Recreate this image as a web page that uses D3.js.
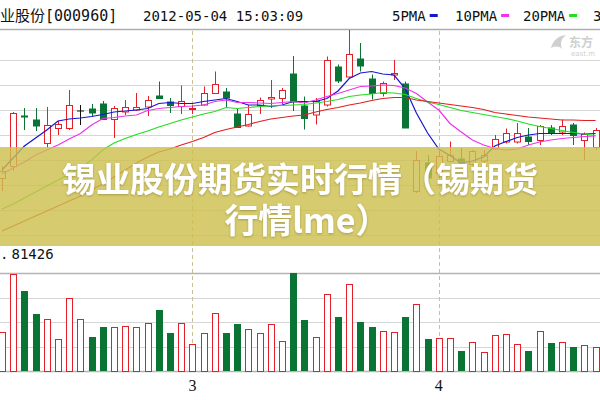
<!DOCTYPE html>
<html>
<head>
<meta charset="utf-8">
<script src="https://cdn.jsdelivr.net/npm/d3@7"></script>
<style>
  body { margin: 0; background: #fff; }
  svg { display: block; }
</style>
</head>
<body>
<div id="chart"></div>
<script>
// daily candles (price units)
var opens  = [19.14, 19.38, 20.40, 20.32, 19.84, 20.14, 20.14, 20.50, 20.54, 20.64,
              20.32, 20.48, 20.51, 20.56, 20.80, 20.67, 20.58, 20.51, 20.61, 20.84,
              20.88, 20.44, 20.19, 20.60, 20.74, 20.74, 21.24, 20.61, 20.40, 20.61,
              21.37, 21.17, 21.53, 21.15, 20.84, 21.20, 21.04, 18.88, 19.46, 19.24,
              19.48, 19.54, 19.41, 19.49, 19.74, 19.87, 19.87, 19.98, 19.90, 20.16,
              20.07, 20.21, 19.90, 19.76];
var closes = [19.28, 20.44, 20.36, 20.18, 20.20, 20.22, 20.60, 20.50, 20.44, 20.31,
              20.54, 20.57, 20.56, 20.69, 20.73, 20.58, 20.68, 20.53, 20.84, 21.02,
              20.74, 20.15, 20.42, 20.70, 20.77, 20.90, 20.66, 20.34, 20.67, 21.50,
              21.07, 21.62, 21.37, 20.84, 21.04, 21.23, 20.14, 19.50, 19.14, 19.57,
              19.60, 19.44, 19.67, 19.60, 19.93, 20.04, 20.04, 19.87, 20.18, 20.04,
              20.18, 19.98, 20.02, 20.10];
var highs  = [19.38, 20.46, 20.54, 20.54, 20.56, 20.28, 20.90, 20.60, 20.62, 20.68,
              20.58, 20.70, 20.84, 20.78, 21.07, 20.74, 20.99, 20.60, 20.97, 21.27,
              20.94, 20.54, 20.60, 20.75, 21.10, 20.94, 21.58, 20.77, 20.74, 21.57,
              21.41, 22.10, 21.84, 21.21, 21.07, 21.50, 21.07, 19.68, 19.60, 19.68,
              19.87, 19.74, 19.70, 19.70, 20.00, 20.13, 20.24, 20.14, 20.20, 20.20,
              20.31, 20.24, 20.05, 20.14];
var lows   = [18.88, 19.28, 20.10, 20.08, 19.74, 20.00, 20.10, 20.20, 20.38, 20.30,
              19.94, 20.40, 20.48, 20.38, 20.72, 20.44, 20.42, 20.42, 20.59, 20.82,
              20.55, 20.14, 20.17, 20.42, 20.54, 20.62, 20.48, 20.11, 20.21, 20.57,
              21.04, 21.14, 21.27, 20.71, 20.77, 21.10, 20.14, 18.84, 18.90, 19.14,
              19.47, 19.40, 19.39, 19.41, 19.70, 19.83, 19.83, 19.80, 19.80, 20.00,
              20.00, 19.80, 19.50, 19.70];
var volumes = [32250, 80840, 66670, 47500, 43340, 26670, 60590, 43340, 28090, 36420,
               36420, 37500, 36420, 40250, 50840, 31420, 39750, 22500, 31420, 48590,
               31420, 38920, 35000, 31420, 38920, 25250, 81426, 42500, 28590, 63920,
               44750, 72250, 41090, 36420, 33590, 32250, 44750, 55590, 26670, 27750,
               27750, 16920, 23920, 15580, 30000, 30840, 22500, 16920, 33590, 23080,
               23920, 19750, 21670, 20250];

// moving average lines as drawn
var ma5  = [19.30, 19.54, 19.78, 19.94, 20.10, 20.28, 20.32, 20.34, 20.37, 20.41,
            20.46, 20.48, 20.50, 20.53, 20.63, 20.65, 20.63, 20.63, 20.67, 20.70,
            20.73, 20.67, 20.60, 20.60, 20.57, 20.60, 20.67, 20.67, 20.67, 20.73,
            20.88, 21.13, 21.24, 21.27, 21.22, 21.20, 20.93, 20.44, 20.04, 19.72,
            19.59, 19.44, 19.48, 19.56, 19.78, 19.87, 19.95, 20.00, 20.03, 20.03,
            20.03, 20.03, 20.02, 20.03];
var ma10 = [19.22, 19.34, 19.46, 19.60, 19.70, 19.80, 19.92, 20.03, 20.20, 20.33,
            20.35, 20.38, 20.40, 20.49, 20.53, 20.55, 20.57, 20.58, 20.60, 20.67,
            20.70, 20.65, 20.65, 20.64, 20.63, 20.65, 20.67, 20.64, 20.70, 20.77,
            20.83, 20.90, 20.97, 20.98, 21.00, 20.99, 20.94, 20.83, 20.66, 20.50,
            20.23, 20.06, 19.90, 19.80, 19.73, 19.70, 19.72, 19.80, 19.86, 19.90,
            19.93, 19.95, 19.97, 19.98];
var ma20 = [18.52, 18.62, 18.74, 18.86, 18.98, 19.10, 19.22, 19.34, 19.50, 19.70,
            19.84, 19.93, 20.01, 20.08, 20.16, 20.23, 20.30, 20.36, 20.42, 20.47,
            20.55, 20.53, 20.55, 20.57, 20.58, 20.59, 20.60, 20.61, 20.64, 20.67,
            20.71, 20.77, 20.80, 20.82, 20.85, 20.84, 20.81, 20.73, 20.66, 20.61,
            20.55, 20.49, 20.45, 20.41, 20.37, 20.33, 20.28, 20.22, 20.17, 20.13,
            20.09, 20.05, 20.02, 19.99];
var ma30 = [18.08, 18.18, 18.28, 18.38, 18.48, 18.58, 18.68, 18.78, 18.90, 19.02,
            19.16, 19.30, 19.44, 19.56, 19.66, 19.72, 19.80, 19.87, 19.95, 20.05,
            20.11, 20.16, 20.21, 20.27, 20.32, 20.35, 20.38, 20.40, 20.46, 20.51,
            20.55, 20.60, 20.64, 20.69, 20.73, 20.75, 20.75, 20.70, 20.67, 20.64,
            20.61, 20.58, 20.55, 20.51, 20.45, 20.42, 20.39, 20.36, 20.34, 20.32,
            20.30, 20.30, 20.29, 20.29];

// month ticks (index of first trading day)
var monthTicks = [17, 39];
var monthLabels = ["3", "4"];
var priceGrid = [18.0, 18.5, 19.0, 19.5, 20.0, 20.5, 21.0, 21.5];
var volMax = 81426;
var volGrid = [0, 20356.5, 40713, 61069.5, 81426];

// last legend entry only shows its first char in the window
var legendNames = ["5PMA", "10PMA", "20PMA", "3"];
var legendColors = ["#1515d0", "#ee33ee", "#22dd22", "#e02020"];

var RED = "#e3202a", GREEN = "#0a7434";

var svg = d3.select("#chart").append("svg")
  .attr("width", 600)
  .attr("height", 400);

var x = d3.scaleLinear().domain([0, opens.length - 1]).range([2, 595.6]);
var y = d3.scaleLinear().domain([18.0, 21.5]).range([235, 60]);
var yVol = d3.scaleLinear().domain([0, volMax]).range([371, 273.3]);

function px(i) { return Math.round(x(i)) + 0.5; }

// gridlines
svg.selectAll("priceGrid")
  .data(priceGrid)
  .enter()
  .append("line")
  .attr("x1", 0).attr("x2", 600)
  .attr("y1", function(d){ return Math.round(y(d)) + 0.5; })
  .attr("y2", function(d){ return Math.round(y(d)) + 0.5; })
  .attr("stroke", "#d6d6d6");

svg.selectAll("volGrid")
  .data(volGrid)
  .enter()
  .append("line")
  .attr("x1", 0).attr("x2", 600)
  .attr("y1", function(d){ return Math.round(yVol(d)) + 0.5; })
  .attr("y2", function(d){ return Math.round(yVol(d)) + 0.5; })
  .attr("stroke", function(d, i){ return (i == 0 || i == volGrid.length - 1) ? "#b4b4b4" : "#d6d6d6"; })
  .attr("stroke-width", function(d, i){ return (i == 0 || i == volGrid.length - 1) ? 1.5 : 1; });

// header separator
svg.append("line")
  .attr("x1", 0).attr("x2", 600)
  .attr("y1", 29.5).attr("y2", 29.5)
  .attr("stroke", "#acacac")
  .attr("stroke-width", 1.5);

// watermark
var wm = svg.append("g").attr("fill", "#cfcfcf");
wm.append("path")
  .attr("d", "M551,48 C553,40 558,36 566,35 C561,39 560,43 562,49 C559,46 555,46 551,48 Z");
wm.append("text")
  .attr("x", 569).attr("y", 47)
  .style("font-family", "'Noto Sans CJK SC', sans-serif")
  .style("font-size", "12px")
  .style("font-weight", "bold")
  .text("东方");
wm.append("text")
  .attr("x", 571).attr("y", 56)
  .style("font-family", "'DejaVu Sans', sans-serif")
  .style("font-size", "7px")
  .text("east.m");

// month separators
svg.selectAll("monthLines")
  .data(monthTicks)
  .enter()
  .append("line")
  .attr("x1", function(d){ return px(d); })
  .attr("x2", function(d){ return px(d); })
  .attr("y1", 31).attr("y2", 371)
  .attr("stroke", "#cbbf92")
  .attr("stroke-dasharray", "4,3");

svg.selectAll("monthText")
  .data(monthTicks)
  .enter()
  .append("text")
  .attr("x", function(d){ return x(d); })
  .attr("y", 391)
  .attr("text-anchor", "middle")
  .style("font-family", "'Liberation Serif', serif")
  .style("font-size", "16px")
  .attr("fill", "#111")
  .text(function(d, i){ return monthLabels[i]; });

// volume bars
var idx = d3.range(opens.length);
svg.selectAll("volBars")
  .data(idx)
  .enter()
  .append("rect")
  .attr("x", function(i){ return closes[i] >= opens[i] ? px(i) - 3 : px(i) - 3.5; })
  .attr("y", function(i){ return closes[i] >= opens[i] ? Math.round(yVol(volumes[i])) + 0.5 : Math.round(yVol(volumes[i])); })
  .attr("width", function(i){ return closes[i] >= opens[i] ? 6 : 7; })
  .attr("height", function(i){ return 371 - Math.round(yVol(volumes[i])); })
  .attr("fill", function(i){ return closes[i] >= opens[i] ? "#fff" : GREEN; })
  .attr("stroke", function(i){ return closes[i] >= opens[i] ? RED : "none"; });

// candles
function candleColor(i) {
  if (closes[i] > opens[i]) return RED;
  if (closes[i] < opens[i]) return GREEN;
  return "#111";
}

svg.selectAll("wicks")
  .data(idx)
  .enter()
  .append("line")
  .attr("x1", function(i){ return px(i); })
  .attr("x2", function(i){ return px(i); })
  .attr("y1", function(i){ return y(highs[i]); })
  .attr("y2", function(i){ return y(lows[i]); })
  .attr("stroke", candleColor);

svg.selectAll("bodies")
  .data(idx)
  .enter()
  .append("rect")
  .attr("x", function(i){ return closes[i] > opens[i] ? px(i) - 3 : px(i) - 3.5; })
  .attr("y", function(i){ return Math.round(y(Math.max(opens[i], closes[i]))) + 0.5; })
  .attr("width", function(i){ return closes[i] > opens[i] ? 6 : 7; })
  .attr("height", function(i){ return Math.max(1, Math.abs(y(opens[i]) - y(closes[i]))); })
  .attr("fill", function(i){ return closes[i] > opens[i] ? "#fff" : candleColor(i); })
  .attr("stroke", function(i){ return closes[i] > opens[i] ? RED : "none"; });

// moving averages
var maSeries = [ma5, ma10, ma20, ma30];
var maLine = d3.line()
  .defined(function(d){ return d != null; })
  .x(function(d, i){ return x(i); })
  .y(function(d){ return y(d); });

maSeries.forEach(function(s, k) {
  svg.append("path")
    .datum(s)
    .attr("fill", "none")
    .attr("stroke", legendColors[k])
    .attr("stroke-width", 1.2)
    .attr("d", maLine);
});

// header texts
var hdrFont = "'DejaVu Sans Mono', 'Noto Sans CJK SC', monospace";
svg.append("text")
  .attr("x", 0).attr("y", 21)
  .style("font-family", hdrFont)
  .style("font-size", "15px")
  .attr("fill", "#111")
  .text("业股份[000960]");
svg.append("text")
  .attr("x", 143).attr("y", 21)
  .style("font-family", hdrFont)
  .style("font-size", "14px")
  .attr("fill", "#111")
  .text("2012-05-04 15:03:09");

var legendX = [392, 455, 523, 593];
legendNames.forEach(function(name, k) {
  svg.append("text")
    .attr("x", legendX[k]).attr("y", 21)
    .style("font-family", hdrFont)
    .style("font-size", "14px")
    .attr("fill", "#111")
    .text(name);
  if (k < 3) {
    svg.append("rect")
      .attr("x", legendX[k] + name.length * 8.43 + 4)
      .attr("y", 14)
      .attr("width", 8).attr("height", 3)
      .attr("fill", legendColors[k]);
  }
});

// volume label
svg.append("text")
  .attr("x", 0).attr("y", 259)
  .style("font-family", hdrFont)
  .style("font-size", "14px")
  .attr("fill", "#111")
  .text(".");
svg.append("text")
  .attr("x", 11.5).attr("y", 259)
  .style("font-family", hdrFont)
  .style("font-size", "14px")
  .attr("fill", "#111")
  .text("81426");

// title banner on top
svg.append("rect")
  .attr("x", 0).attr("y", 147)
  .attr("width", 600).attr("height", 99)
  .attr("fill", "#cdbf4e")
  .attr("opacity", 0.82);

var defs = svg.append("defs");
defs.append("filter").attr("id", "sh")
  .append("feDropShadow")
  .attr("dx", 0).attr("dy", 1).attr("stdDeviation", 0.8)
  .attr("flood-color", "#6b6320").attr("flood-opacity", 0.45);

var titleLines = ["锡业股份期货实时行情（锡期货", "行情lme）"];
var titleX = [300, 307];
var titleY = [192, 233];
titleLines.forEach(function(line, k) {
  svg.append("text")
    .attr("x", titleX[k]).attr("y", titleY[k])
    .attr("text-anchor", "middle")
    .attr("filter", "url(#sh)")
    .style("font-family", "'Noto Sans CJK SC', sans-serif")
    .style("font-size", "34px")
    .style("font-weight", "bold")
    .attr("fill", "#fff")
    .text(line);
});
</script>
</body>
</html>
